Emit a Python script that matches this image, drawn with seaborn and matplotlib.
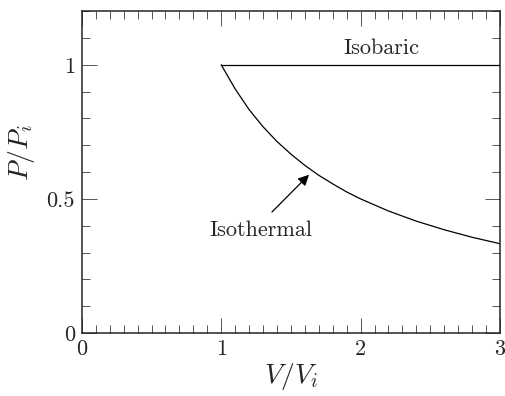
import seaborn as sns
import pandas as pd
import matplotlib.pyplot as plt
from matplotlib.ticker import FixedLocator, MultipleLocator

# values
isobaric_v = [1.0, 3.0]
isobaric_p = [1.0, 1.0]

isothermal_v = [1.0, 1.1, 1.2, 1.3, 1.4, 1.5, 1.6, 1.7, 1.8, 1.9, 2.0,
                2.2, 2.4, 2.6, 2.8, 3.0]
isothermal_p = [1.0, 0.91, 0.833, 0.769, 0.714, 0.667, 0.625, 0.588, 0.556,
                0.526, 0.5, 0.455, 0.417, 0.385, 0.357, 0.333]

x_ticks = [0, 1, 2, 3]
x_labels = ["0", "1", "2", "3"]
y_ticks = [0, 0.5, 1]
y_labels = ["0", "0.5", "1"]

sns.set_style("ticks")
plt.rcParams["font.family"] = ["cmr10", "DejaVu Serif"]
plt.rcParams["mathtext.fontset"] = "cm"
plt.rcParams["axes.unicode_minus"] = False

iso_bar = pd.DataFrame({"V": isobaric_v, "P": isobaric_p})
iso_therm = pd.DataFrame({"V": isothermal_v, "P": isothermal_p})

fig = plt.figure(figsize=(5.05, 3.96), dpi=100)
ax = fig.add_axes([0.162, 0.159, 0.828, 0.813])

sns.lineplot(data=iso_bar, x="V", y="P", color="black", linewidth=0.9, ax=ax)
sns.lineplot(data=iso_therm, x="V", y="P", color="black", linewidth=0.9, ax=ax)

ax.set_xlim(0, 3)
ax.set_ylim(0, 1.2)

ax.xaxis.set_major_locator(FixedLocator(x_ticks))
ax.set_xticklabels(x_labels)
ax.yaxis.set_major_locator(FixedLocator(y_ticks))
ax.set_yticklabels(y_labels)
ax.xaxis.set_minor_locator(MultipleLocator(0.1))
ax.yaxis.set_minor_locator(MultipleLocator(0.1))

ax.tick_params(which="both", direction="in", top=True, right=True,
               labelsize=16, color="#555555")
ax.tick_params(which="major", length=11, width=0.7, pad=5)
ax.tick_params(which="minor", length=6, width=0.7)
for s in ax.spines.values():
    s.set_linewidth(1.1)
    s.set_visible(True)

ax.set_xlabel("$V/V_i$", fontsize=20, labelpad=1)
ax.set_ylabel("$P/P_i$", fontsize=20)
ax.yaxis.set_label_coords(-0.108, 0.56)

ax.text(2.15, 1.025, "Isobaric", ha="center", va="bottom", fontsize=16)
ax.text(1.285, 0.384, "Isothermal", ha="center", va="center", fontsize=16)
ax.annotate("", xy=(1.63, 0.59), xytext=(1.364, 0.451),
            arrowprops=dict(arrowstyle="-|>", color="black", lw=0.9,
                            shrinkA=0, shrinkB=0, mutation_scale=16))

fig.savefig("out.png", dpi=100)
